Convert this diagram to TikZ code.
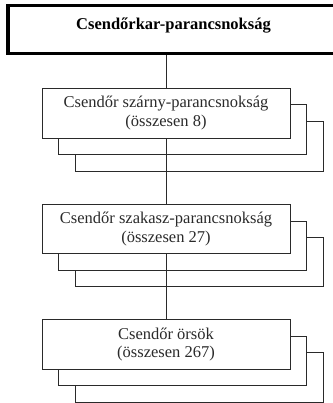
\documentclass[tikz,border=0pt]{standalone}
\usepackage{fontspec}
\setmainfont{Liberation Serif}
\definecolor{ink}{HTML}{2A2A2A}
\begin{document}
\begin{tikzpicture}[x=1pt,y=-1pt,
  unitbox/.style={draw=ink, fill=white, line width=0.9pt, minimum width=248pt, inner sep=0pt, align=center, text=ink, font=\fontsize{16.5}{18.5}\selectfont},
  shadowbox/.style={draw=ink, fill=white, line width=0.9pt, minimum width=248pt, inner sep=0pt},
  headbox/.style={draw=black, fill=white, line width=3.6pt, minimum width=328pt, minimum height=48pt, inner sep=0pt, font=\bfseries\fontsize{16.5}{18.5}\selectfont},
  link/.style={draw=ink, line width=0.9pt}]
\useasboundingbox (0,0) rectangle (332,403);
\fill[white] (0,0) rectangle (332,403);

% head
\node[headbox] (head) at (172,29.5) {};
\node[font=\bfseries\fontsize{16.5}{18.5}\selectfont, text=black] (headtxt) at (173.5,26) {Csendőrkar-parancsnokság};

% level 2
\node[shadowbox, minimum height=50pt] (b2s2) at (199,146) {};
\node[shadowbox, minimum height=50pt] (b2s1) at (182.5,129.5) {};
\node[unitbox, minimum height=50pt] (b2) at (166,113) {Csendőr szárny-parancsnokság\\(összesen 8)};

% level 3
\node[shadowbox, minimum height=49pt] (b3s2) at (199,262) {};
\node[shadowbox, minimum height=49pt] (b3s1) at (182.5,245.5) {};
\node[unitbox, minimum height=49pt] (b3) at (166,229) {Csendőr szakasz-parancsnokság\\(összesen 27)};

% level 4
\node[shadowbox, minimum height=49.5pt] (b4s2) at (199,377.5) {};
\node[shadowbox, minimum height=49.5pt] (b4s1) at (182.5,361) {};
\node[unitbox, minimum height=49.5pt] (b4) at (166,344.5) {Csendőr örsök\\(összesen 267)};

% connectors
\draw[link] (head.south -| b2.north) -- (b2.north);
\draw[link] (b2.south) -- (b3.north);
\draw[link] (b3.south) -- (b4.north);
\end{tikzpicture}
\end{document}
